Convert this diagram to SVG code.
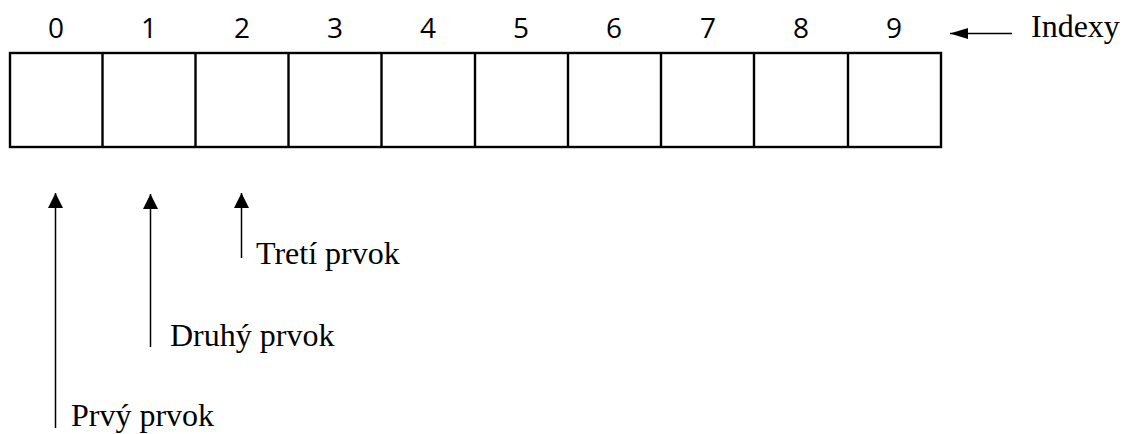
<svg xmlns="http://www.w3.org/2000/svg" width="1130" height="434" viewBox="0 0 1130 434">
<style>
.idx{font-family:"Open Sans","Noto Sans",sans-serif;font-size:28px;fill:#000;text-anchor:middle}
.lbl{font-family:"Liberation Serif","Times New Roman",serif;font-size:32px;fill:#000}
.cell{fill:#fff;stroke:#000;stroke-width:2.4}
.arr{stroke:#000;stroke-width:1.5;fill:none}
</style>
<defs>
<marker id="ah" markerUnits="userSpaceOnUse" markerWidth="17" markerHeight="17" viewBox="0 0 17 17" refX="15" refY="8.5" orient="auto">
<path d="M0,1 L15,8.5 L0,16 Z" fill="#000"/>
</marker>
<marker id="ah2" markerUnits="userSpaceOnUse" markerWidth="18" markerHeight="12" viewBox="0 0 18 12" refX="18" refY="6" orient="auto">
<path d="M0,0.5 L18,6 L0,11.5 Z" fill="#000"/>
</marker>
</defs>
<g id="array">
<rect class="cell" x="10" y="53" width="931" height="94"/>
<line class="cell" x1="102.5" y1="53" x2="102.5" y2="147"/>
<line class="cell" x1="195.5" y1="53" x2="195.5" y2="147"/>
<line class="cell" x1="288.5" y1="53" x2="288.5" y2="147"/>
<line class="cell" x1="381.5" y1="53" x2="381.5" y2="147"/>
<line class="cell" x1="475" y1="53" x2="475" y2="147"/>
<line class="cell" x1="568" y1="53" x2="568" y2="147"/>
<line class="cell" x1="661" y1="53" x2="661" y2="147"/>
<line class="cell" x1="754" y1="53" x2="754" y2="147"/>
<line class="cell" x1="848" y1="53" x2="848" y2="147"/>
</g>
<g id="indices">
<text class="idx" x="56" y="38">0</text>
<text class="idx" x="149" y="38">1</text>
<text class="idx" x="242" y="38">2</text>
<text class="idx" x="335" y="38">3</text>
<text class="idx" x="428" y="38">4</text>
<text class="idx" x="521" y="38">5</text>
<text class="idx" x="614" y="38">6</text>
<text class="idx" x="708" y="38">7</text>
<text class="idx" x="801" y="38">8</text>
<text class="idx" x="894" y="38">9</text>
</g>
<g id="connectors">
<line class="arr" x1="1012" y1="33.5" x2="950" y2="33.5" marker-end="url(#ah2)"/>
<line class="arr" x1="55.5" y1="428" x2="55.5" y2="193" marker-end="url(#ah)"/>
<line class="arr" x1="150.5" y1="347" x2="150.5" y2="194" marker-end="url(#ah)"/>
<line class="arr" x1="241.5" y1="258" x2="241.5" y2="193" marker-end="url(#ah)"/>
</g>
<g id="label-indexy"><text class="lbl" x="1031" y="37">Indexy</text></g>
<g id="label-treti"><text class="lbl" x="256" y="264">Tretí prvok</text></g>
<g id="label-druhy"><text class="lbl" x="170" y="346">Druhý prvok</text></g>
<g id="label-prvy"><text class="lbl" x="71" y="426">Prvý prvok</text></g>
</svg>
